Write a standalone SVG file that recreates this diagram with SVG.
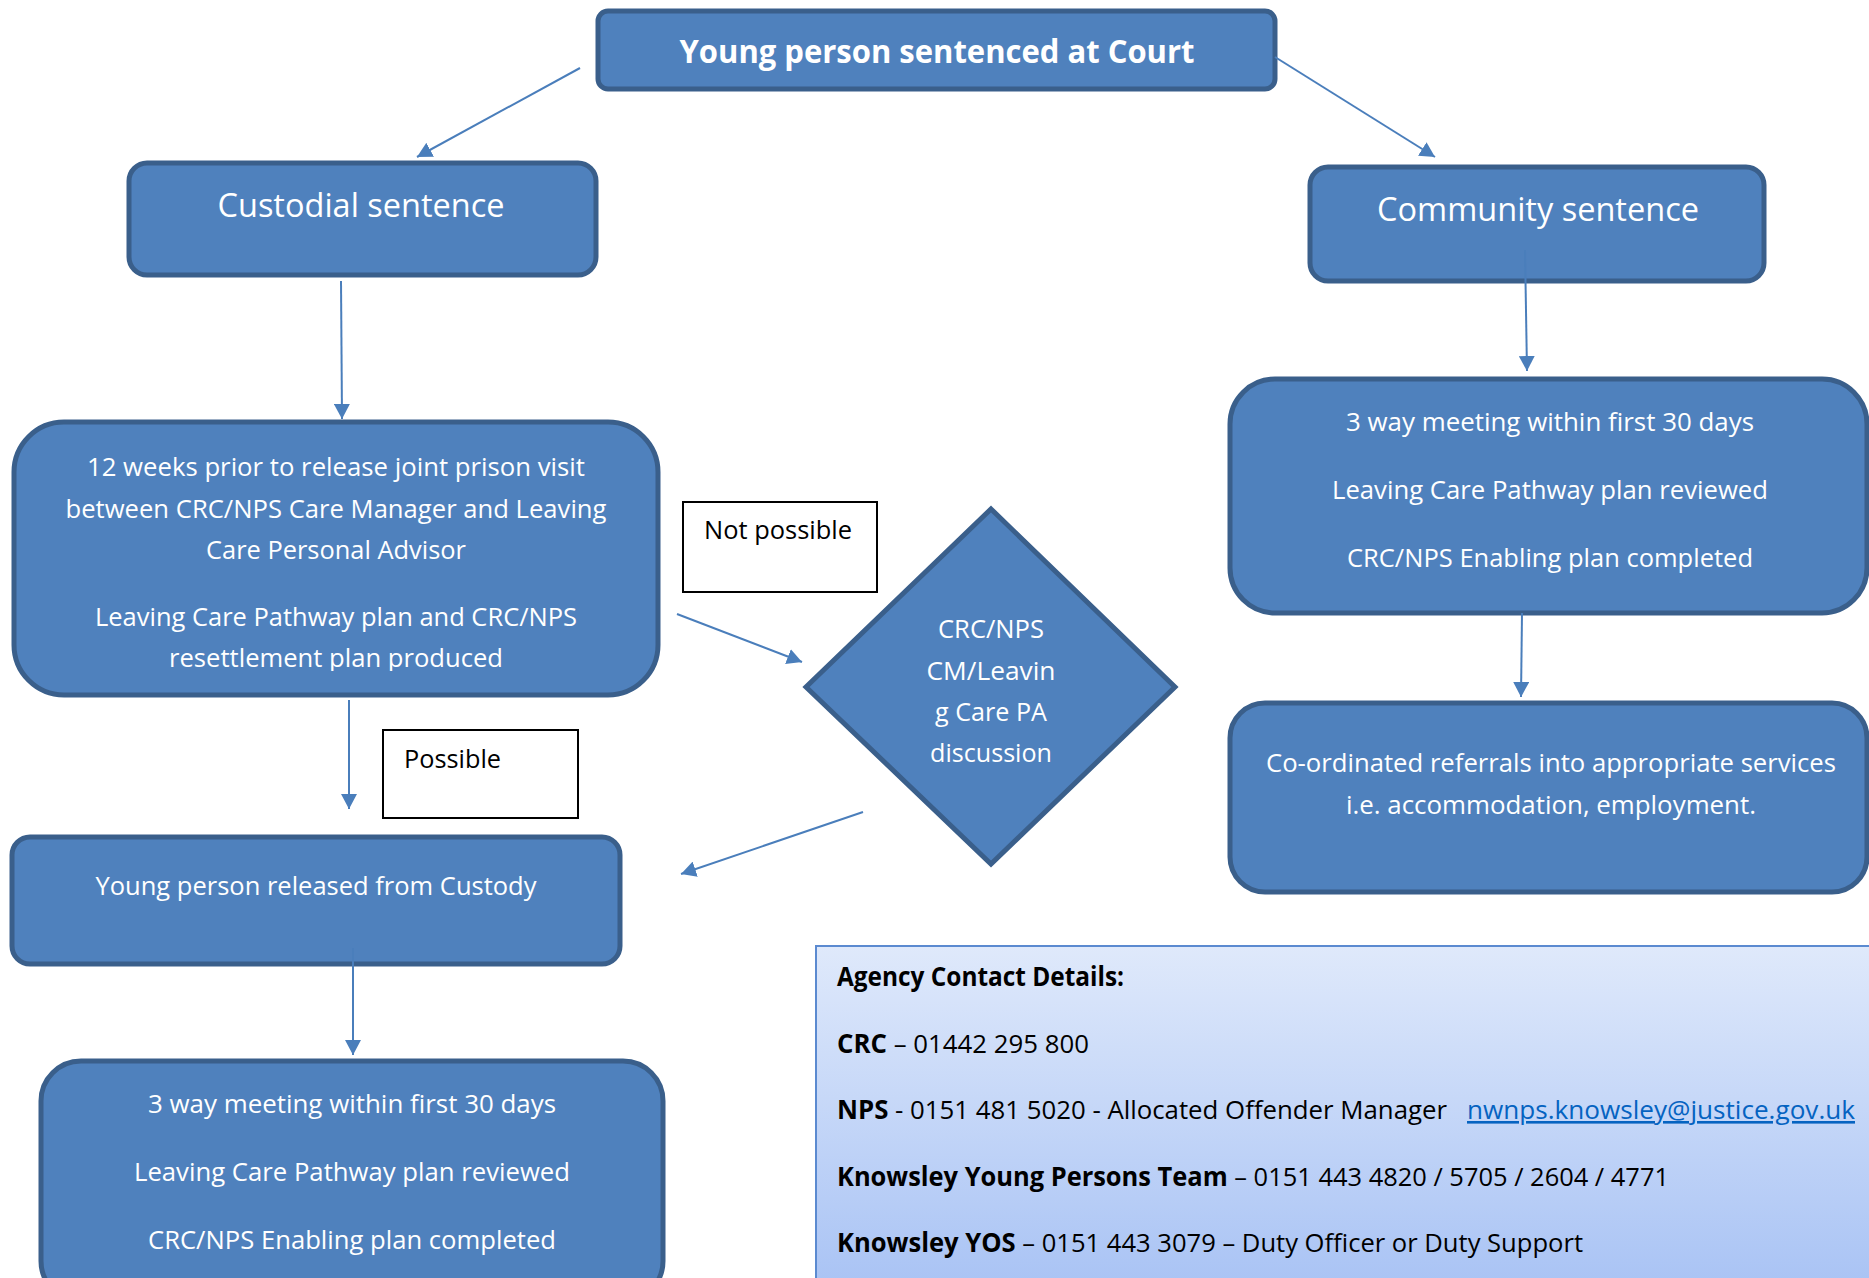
<svg xmlns="http://www.w3.org/2000/svg" width="1869" height="1278" viewBox="0 0 1869 1278">
<defs>
<style>
.box{fill:#4F81BD;stroke:#3A5F8B;stroke-width:5}
.t{font-family:"Open Sans","Noto Sans",sans-serif;fill:#fff;text-anchor:middle;font-size:26px}
.big{font-size:33px}
.lbl{fill:#fff;stroke:#000;stroke-width:2}
.lt{font-family:"Open Sans","Noto Sans",sans-serif;fill:#000;font-size:26px}
.con{stroke:#4A7EBB;stroke-width:2;fill:none;marker-end:url(#ah)}
.ag{font-family:"Open Sans","Noto Sans",sans-serif;fill:#000;font-size:26px}
.b{font-weight:bold}
</style>
<marker id="ah" viewBox="0 0 15 16" refX="15" refY="8" markerWidth="15" markerHeight="16" markerUnits="userSpaceOnUse" orient="auto">
<path d="M0,0 L15,8 L0,16 z" fill="#4A7EBB"/>
</marker>
<linearGradient id="agg" x1="0" y1="0" x2="0" y2="1">
<stop offset="0" stop-color="#DFE9FB"/>
<stop offset="1" stop-color="#A6C1F4"/>
</linearGradient>
<clipPath id="c12"><rect x="0" y="400" width="700" height="271"/></clipPath>
</defs>

<g id="n-court">
<rect class="box" x="598" y="11" width="677" height="78" rx="10"/>
<text class="t big b" x="937" y="63" textLength="515" lengthAdjust="spacingAndGlyphs">Young person sentenced at Court</text>
</g>

<g id="n-custodial">
<rect class="box" x="129" y="163" width="467" height="112" rx="18"/>
<text class="t big" x="361" y="217" textLength="287" lengthAdjust="spacingAndGlyphs">Custodial sentence</text>
</g>

<g id="n-community">
<rect class="box" x="1310" y="167" width="454" height="114" rx="18"/>
<text class="t big" x="1538" y="221" textLength="322" lengthAdjust="spacingAndGlyphs">Community sentence</text>
</g>

<g id="n-12weeks">
<rect class="box" x="14" y="422" width="644" height="273" rx="50"/>
<g clip-path="url(#c12)">
<text class="t" x="336" y="476" textLength="498" lengthAdjust="spacingAndGlyphs">12 weeks prior to release joint prison visit</text>
<text class="t" x="336" y="518" textLength="541" lengthAdjust="spacingAndGlyphs">between CRC/NPS Care Manager and Leaving</text>
<text class="t" x="336" y="559" textLength="260" lengthAdjust="spacingAndGlyphs">Care Personal Advisor</text>
<text class="t" x="336" y="626" textLength="482" lengthAdjust="spacingAndGlyphs">Leaving Care Pathway plan and CRC/NPS</text>
<text class="t" x="336" y="667" textLength="334" lengthAdjust="spacingAndGlyphs">resettlement plan produced</text>
</g>
</g>

<g id="n-notpossible">
<rect class="lbl" x="683" y="502" width="194" height="90"/>
<text class="lt" x="704" y="539" textLength="148" lengthAdjust="spacingAndGlyphs">Not possible</text>
</g>

<g id="n-diamond">
<polygon class="box" points="991,509 1175,687 991,864 806,687"/>
<text class="t" x="991" y="638" textLength="106" lengthAdjust="spacingAndGlyphs">CRC/NPS</text>
<text class="t" x="991" y="680" textLength="129" lengthAdjust="spacingAndGlyphs">CM/Leavin</text>
<text class="t" x="991" y="721" textLength="112" lengthAdjust="spacingAndGlyphs">g Care PA</text>
<text class="t" x="991" y="762" textLength="122" lengthAdjust="spacingAndGlyphs">discussion</text>
</g>

<g id="n-possible">
<rect class="lbl" x="383" y="730" width="195" height="88"/>
<text class="lt" x="404" y="768" textLength="97" lengthAdjust="spacingAndGlyphs">Possible</text>
</g>

<g id="n-released">
<rect class="box" x="12" y="837" width="608" height="127" rx="18"/>
<text class="t" x="316" y="895" textLength="441" lengthAdjust="spacingAndGlyphs">Young person released from Custody</text>
</g>

<g id="n-meeting-left">
<rect class="box" x="41" y="1061" width="622" height="240" rx="40"/>
<text class="t" x="352" y="1113" textLength="408" lengthAdjust="spacingAndGlyphs">3 way meeting within first 30 days</text>
<text class="t" x="352" y="1181" textLength="436" lengthAdjust="spacingAndGlyphs">Leaving Care Pathway plan reviewed</text>
<text class="t" x="352" y="1249" textLength="408" lengthAdjust="spacingAndGlyphs">CRC/NPS Enabling plan completed</text>
</g>

<g id="n-meeting-right">
<rect class="box" x="1230" y="379" width="637" height="234" rx="45"/>
<text class="t" x="1550" y="431" textLength="408" lengthAdjust="spacingAndGlyphs">3 way meeting within first 30 days</text>
<text class="t" x="1550" y="499" textLength="436" lengthAdjust="spacingAndGlyphs">Leaving Care Pathway plan reviewed</text>
<text class="t" x="1550" y="567" textLength="406" lengthAdjust="spacingAndGlyphs">CRC/NPS Enabling plan completed</text>
</g>

<g id="n-referrals">
<rect class="box" x="1230" y="703" width="637" height="189" rx="35"/>
<text class="t" x="1551" y="772" textLength="570" lengthAdjust="spacingAndGlyphs">Co-ordinated referrals into appropriate services</text>
<text class="t" x="1551" y="814" textLength="410" lengthAdjust="spacingAndGlyphs">i.e. accommodation, employment.</text>
</g>

<g id="n-agency">
<rect x="816" y="946" width="1070" height="360" fill="url(#agg)" stroke="#5B8AD0" stroke-width="2"/>
<text class="ag b" x="837" y="986" textLength="287" lengthAdjust="spacingAndGlyphs">Agency Contact Details:</text>
<text class="ag" x="837" y="1053" textLength="252" lengthAdjust="spacingAndGlyphs"><tspan class="b">CRC</tspan> – 01442 295 800</text>
<text class="ag" x="837" y="1119" textLength="610" lengthAdjust="spacingAndGlyphs"><tspan class="b">NPS</tspan> - 0151 481 5020 - Allocated Offender Manager</text>
<text class="ag" x="1467" y="1119" textLength="388" lengthAdjust="spacingAndGlyphs" style="fill:#0563C1;text-decoration:underline">nwnps.knowsley@justice.gov.uk</text>
<text class="ag" x="837" y="1186" textLength="832" lengthAdjust="spacingAndGlyphs"><tspan class="b">Knowsley Young Persons Team</tspan> – 0151 443 4820 / 5705 / 2604 / 4771</text>
<text class="ag" x="837" y="1252" textLength="746" lengthAdjust="spacingAndGlyphs"><tspan class="b">Knowsley YOS</tspan> – 0151 443 3079 – Duty Officer or Duty Support</text>
</g>

<g id="connectors">
<line class="con" x1="580" y1="68" x2="417" y2="157"/>
<line class="con" x1="1275" y1="57" x2="1435" y2="157"/>
<line class="con" x1="341" y1="281" x2="342" y2="419"/>
<line class="con" x1="1525" y1="250" x2="1527" y2="371"/>
<line class="con" x1="1522" y1="613" x2="1521" y2="697"/>
<line class="con" x1="677" y1="614" x2="802" y2="662"/>
<line class="con" x1="863" y1="812" x2="681" y2="874"/>
<line class="con" x1="349" y1="700" x2="349" y2="809"/>
<line class="con" x1="353" y1="948" x2="353" y2="1055"/>
</g>
</svg>
